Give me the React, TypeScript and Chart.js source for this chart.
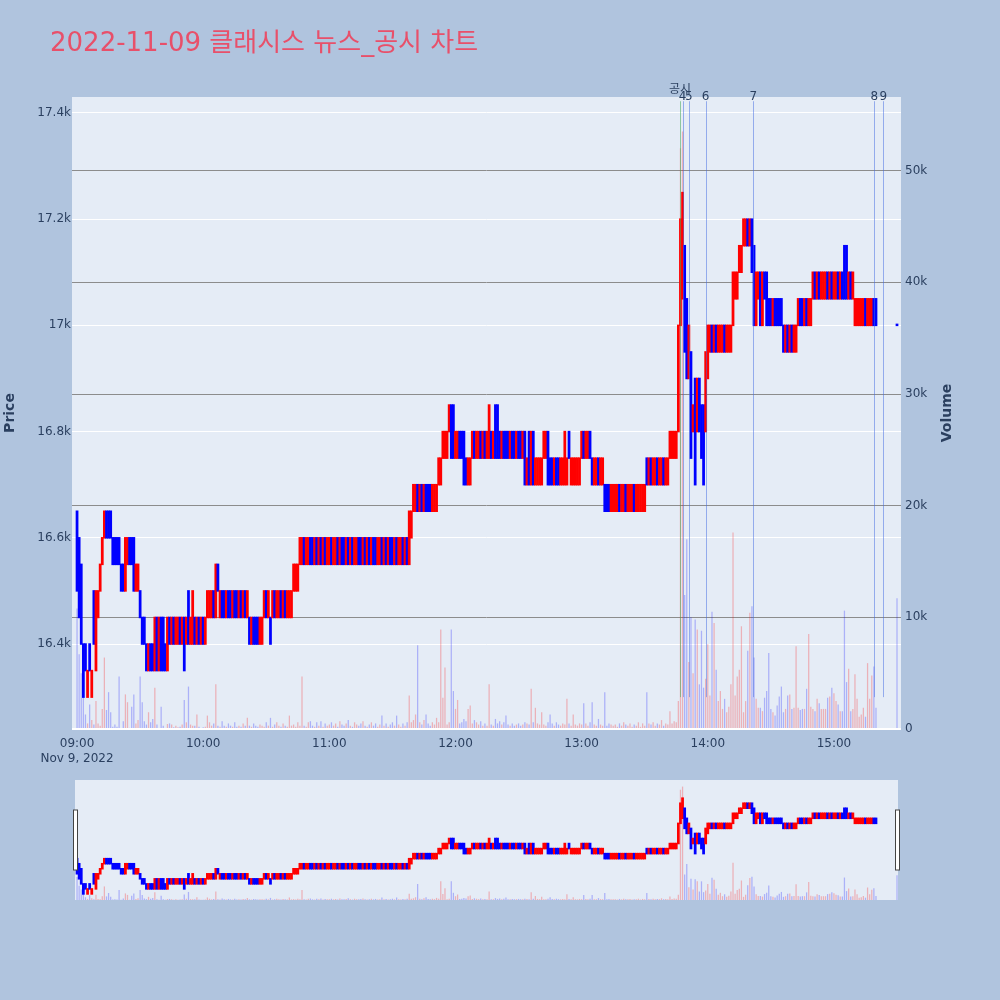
import React, { useEffect, useRef } from "react";
import { Chart, registerables } from "chart.js";

Chart.register(...registerables);

const FONT = "'DejaVu Sans', 'Noto Sans CJK KR', sans-serif";
const PAGE_BG = "#b0c4de";
const PLOT_BG = "#e5ecf6";
const TEXT = "#2a3f5f";
const TITLE_COLOR = "#e8506a";
const UP = "#ff0000";
const DOWN = "#0000ff";
const UP_VOL = "rgba(255,0,0,0.25)";
const DOWN_VOL = "rgba(0,0,255,0.25)";
const NEWS_FIRST_COLOR = "rgba(70,170,90,0.55)";
const NEWS_COLOR = "rgba(65,105,225,0.5)";

const title = "2022-11-09 클래시스 뉴스_공시 차트";
const dateLabel = "Nov 9, 2022";
const sessionStart = "09:00";
const hourTickLabels = ["09:00", "10:00", "11:00", "12:00", "13:00", "14:00", "15:00"];
const priceTicks = [16400, 16600, 16800, 17000, 17200, 17400];
const volumeTicks = [0, 10000, 20000, 30000, 40000, 50000];
const priceRange = [16240, 17430];
const volumeRange = [0, 56600];
const timeRange = ["08:57:36", "15:31:54"];

const newsTimes = ["13:46:50", "13:48:00", "13:51:00", "13:59:00", "14:21:40", "15:19:10", "15:23:30"];
const newsLabels = ["공시", "4", "5", "6", "7", "8", "9"];
const newsLineLow = 16300;
const newsLineHigh = 17422;

// one entry per minute from 09:00 (index = minutes after 09:00); null = no trade
const opens = [
  16650,16600,16550,16400,16400,16300,16400,16300,16500,16350,
  16450,16500,16550,16600,16650,16650,16650,16600,16600,16600,
  16600,16550,16550,16500,16550,16600,16600,16600,16500,16500,
  16500,16450,16450,16400,16350,16400,16400,16350,16450,16350,
  16450,16450,16400,16350,16450,16400,16450,16400,16400,16450,
  16400,16450,16400,16500,16400,16400,16450,16400,16450,16400,
  16450,16400,16450,16450,16450,16500,16450,16550,16450,16500,
  16500,16450,16500,16500,16450,16500,16500,16450,16500,16450,
  16500,16450,16450,16400,16450,16450,16450,16400,16400,16450,
  16500,16450,16450,16450,16500,16450,16450,16500,16450,16500,
  16450,16450,16450,16500,16500,16500,16550,16550,16600,16550,
  16550,16600,16600,16550,16600,16550,16600,16550,16600,16550,
  16550,16600,16550,16550,16600,16550,16600,16600,16550,16600,
  16550,16600,16550,16550,16600,16600,16550,16600,16550,16600,
  16550,16600,16600,16550,16550,16600,16550,16600,16550,16600,
  16600,16550,16600,16550,16550,16600,16550,16600,16550,16600,
  16650,16650,16700,16650,16700,16650,16700,16700,16700,16650,
  16650,16650,16700,16700,16750,16750,16750,16800,16850,16850,
  16750,16750,16800,16800,16800,16750,16700,16700,16750,16800,
  16750,16750,16800,16750,16800,16750,16750,16800,16750,16850,
  16850,16800,16750,16800,16800,16800,16750,16800,16800,16750,
  16800,16800,16750,16800,16700,16800,16700,16800,16700,16700,
  16700,16700,16750,16750,16800,16750,16750,16700,16750,16750,
  16700,16700,16700,16700,16800,16700,16700,16700,16700,16700,
  16750,16800,16750,16750,16800,16750,16700,16700,16750,16700,
  16700,16700,16700,16700,16650,16650,16650,16650,16700,16650,
  16650,16700,16650,16650,16650,16700,16650,16650,16650,16650,
  16650,16750,16700,16750,16700,16700,16750,16700,16700,16750,
  16700,16700,16750,16750,16750,16750,16800,17000,17050,17150,
  17050,16900,16950,16800,16900,16800,16900,16850,16850,16800,
  16900,16950,17000,16950,17000,16950,16950,16950,17000,16950,
  16950,16950,17000,17050,17050,17100,17100,17150,17150,17200,
  17150,17200,17150,17000,17050,17100,17000,17100,17100,17050,
  17050,17000,17050,17050,17050,17050,17000,16950,17000,16950,
  17000,16950,16950,17000,17050,17050,17000,17050,17000,17000,
  17050,17100,17050,17100,17050,17050,17050,17100,17050,17100,
  17050,17050,17100,17050,17100,17150,17150,17050,17100,17050,
  17000,17000,17000,17000,17000,17050,17000,17000,17000,17050,
  17050,null,null,null,null,null,null,null,null,null,
  17000,
];

const closes = [
  16500,16450,16400,16300,16350,16350,16350,16350,16400,16500,
  16500,16550,16600,16650,16600,16600,16600,16550,16550,16550,
  16550,16500,16500,16600,16600,16550,16550,16500,16550,16550,
  16450,16400,16400,16350,16400,16350,16350,16450,16350,16450,
  16350,16350,16350,16450,16400,16450,16400,16450,16450,16400,
  16450,16350,16450,16400,16450,16500,16400,16450,16400,16450,
  16400,16450,16500,16500,16500,16450,16550,16500,16500,16450,
  16450,16500,16450,16450,16500,16450,16450,16500,16450,16500,
  16450,16500,16400,16450,16400,16400,16400,16450,16450,16500,
  16450,16500,16400,16500,16450,16500,16500,16450,16500,16450,
  16500,16500,16500,16550,16550,16550,16600,16600,16550,16600,
  16600,16550,16550,16600,16550,16600,16550,16600,16550,16600,
  16600,16550,16600,16600,16550,16600,16550,16550,16600,16550,
  16600,16550,16600,16600,16550,16550,16600,16550,16600,16550,
  16600,16550,16550,16600,16600,16550,16600,16550,16600,16550,
  16550,16600,16550,16600,16600,16550,16600,16550,16650,16650,
  16700,16700,16650,16700,16650,16700,16650,16650,16650,16700,
  16700,16700,16750,16750,16800,16800,16800,16850,16750,16750,
  16800,16800,16750,16750,16700,16700,16750,16750,16800,16750,
  16800,16800,16750,16800,16750,16800,16850,16750,16800,16750,
  16750,16750,16800,16750,16750,16750,16800,16750,16750,16800,
  16750,16750,16800,16700,16750,16700,16800,16700,16750,16750,
  16750,16750,16800,16800,16700,16700,16700,16750,16700,16700,
  16750,16750,16800,16750,16750,16750,16750,16750,16750,16750,
  16800,16750,16800,16800,16750,16700,16750,16750,16700,16750,
  16750,16650,16650,16650,16700,16700,16700,16700,16650,16700,
  16700,16650,16700,16700,16700,16650,16700,16700,16700,16700,
  16700,16700,16750,16700,16750,16750,16700,16750,16750,16700,
  16750,16750,16800,16800,16800,16800,17000,17200,17250,16950,
  16900,17000,16750,16850,16700,16900,16800,16750,16700,16950,
  17000,17000,16950,17000,16950,17000,17000,17000,16950,17000,
  17000,17000,17100,17100,17100,17150,17150,17200,17200,17150,
  17200,17100,17000,17100,17100,17000,17100,17050,17000,17000,
  17000,17050,17000,17000,17000,17000,16950,17000,16950,17000,
  16950,17000,17000,17050,17000,17000,17050,17000,17050,17050,
  17100,17050,17100,17050,17100,17100,17100,17050,17100,17050,
  17100,17100,17050,17100,17050,17050,17050,17100,17050,17100,
  17050,17050,17050,17050,17050,17000,17050,17050,17050,17000,
  17000,null,null,null,null,null,null,null,null,null,
  17000,
];

const volumes = [
  10800,6700,5000,2800,1300,500,2200,800,400,2500,
  500,300,1800,6400,1700,3300,1500,200,400,200,
  4700,100,700,3100,2400,100,2000,3100,500,800,
  4700,2400,700,400,1500,600,900,3700,400,100,
  2000,300,100,450,500,400,150,300,150,200,
  400,2600,600,3800,400,300,300,1300,200,100,
  150,200,1200,600,300,500,4000,300,200,700,
  300,200,500,300,200,600,200,300,200,500,
  300,1000,300,200,500,300,200,400,300,200,
  600,300,1000,200,400,600,300,200,500,300,
  200,1200,300,400,200,600,300,4700,300,200,
  600,700,300,200,600,300,700,200,500,300,
  400,600,300,500,200,700,400,300,500,800,
  300,200,600,400,300,500,700,300,200,400,
  600,300,500,200,400,1200,300,500,200,400,
  600,300,1200,400,200,500,300,600,3000,600,
  800,1300,7500,600,400,800,1300,500,300,600,
  400,1000,600,8900,2800,5500,400,600,8900,3400,
  1800,2600,500,600,900,700,1800,2100,500,800,
  600,400,700,300,500,300,4000,400,300,900,
  500,700,400,600,1200,400,300,500,300,400,
  500,300,400,600,500,400,3600,600,1900,500,
  400,1500,400,300,600,1300,500,300,600,400,
  300,500,400,2700,500,300,1300,400,300,500,
  400,2300,500,300,600,2400,400,300,900,400,
  300,3300,300,500,400,300,400,200,500,300,
  600,400,300,500,200,400,300,600,200,500,
  300,3300,500,400,600,300,500,400,800,300,
  500,400,1600,500,700,600,2500,52000,53500,12000,
  17000,6000,10000,5000,9800,8900,4000,8800,3700,4500,
  7600,3000,10500,9500,5300,2500,3400,1800,2700,1500,
  2000,4000,17600,3000,4700,5300,9200,1500,2500,7000,
  10400,11000,6400,2700,1900,1900,1600,2800,3400,6800,
  1800,1500,1200,2100,2900,3800,1500,1800,3000,3100,
  1800,1900,7400,1900,1700,1800,1800,3600,8500,2000,
  1800,1600,2700,2300,1800,1800,1800,2800,2900,3700,
  3200,2500,2200,1600,1600,10600,4200,5400,1600,1800,
  4900,2700,1100,1300,1900,1100,5900,2700,4800,5600,
  1900,null,null,null,null,null,null,null,null,null,
  11700,
];

function toMin(t: string): number {
  const [h0, m0] = sessionStart.split(":").map(Number);
  const parts = t.split(":").map(Number);
  return (parts[0] - h0) * 60 + (parts[1] - m0) + (parts[2] || 0) / 60;
}

function buildPoints() {
  const pts: { x: number; o: number; c: number; v: number }[] = [];
  for (let i = 0; i < opens.length; i++) {
    const o = opens[i];
    const c = closes[i];
    if (o == null || c == null) continue;
    pts.push({ x: i, o, c, v: volumes[i] ?? 0 });
  }
  return pts;
}

function makeDatasets(pts: any[]) {
  return [
    {
      type: "bar",
      label: "price",
      data: pts.map((p) => ({ x: p.x, y: [p.o, p.c] })),
      backgroundColor: pts.map((p) => (p.c > p.o ? UP : DOWN)),
      borderWidth: 0,
      grouped: false,
      barPercentage: 0.6,
      categoryPercentage: 1,
      inflateAmount: 0.75,
      minBarLength: 1,
      xAxisID: "x",
      yAxisID: "y",
    },
    {
      type: "bar",
      label: "volume",
      data: pts.map((p) => ({ x: p.x, y: p.v })),
      backgroundColor: pts.map((p) => (p.c > p.o ? UP_VOL : DOWN_VOL)),
      borderWidth: 0,
      grouped: false,
      barPercentage: 0.6,
      categoryPercentage: 1,
      inflateAmount: 0,
      xAxisID: "x",
      yAxisID: "yv",
    },
  ];
}

const kFmt = (v: number) => (v === 0 ? "0" : `${+(v / 1000).toFixed(1)}k`);

export default function App() {
  const mainRef = useRef<HTMLCanvasElement | null>(null);
  const sliderRef = useRef<HTMLCanvasElement | null>(null);

  useEffect(() => {
    const pts = buildPoints();
    const xMin = toMin(timeRange[0]);
    const xMax = toMin(timeRange[1]);
    const hourVals = hourTickLabels.map(toMin);

    const bgPlugin = {
      id: "plotBg",
      beforeDraw(chart: any) {
        const { ctx, chartArea } = chart;
        ctx.save();
        ctx.fillStyle = PLOT_BG;
        ctx.fillRect(chartArea.left, chartArea.top, chartArea.right - chartArea.left, chartArea.bottom - chartArea.top);
        ctx.restore();
      },
    };

    const overlayPlugin = {
      id: "overlay",
      afterDraw(chart: any) {
        const { ctx } = chart;
        const xs = chart.scales.x;
        const ys = chart.scales.y;
        ctx.save();
        newsTimes.forEach((t, i) => {
          const px = Math.round(xs.getPixelForValue(toMin(t))) + 0.5;
          const y0 = ys.getPixelForValue(newsLineHigh);
          const y1 = ys.getPixelForValue(newsLineLow);
          ctx.strokeStyle = i === 0 ? NEWS_FIRST_COLOR : NEWS_COLOR;
          ctx.lineWidth = 1;
          ctx.beginPath();
          ctx.moveTo(px, y0);
          ctx.lineTo(px, y1);
          ctx.stroke();
        });
        ctx.fillStyle = TEXT;
        ctx.textAlign = "center";
        ctx.textBaseline = "middle";
        ctx.font = `12px ${FONT}`;
        newsTimes.forEach((t, i) => {
          const px = xs.getPixelForValue(toMin(t));
          ctx.fillText(newsLabels[i], px, i === 0 ? 90 : 97);
        });
        ctx.fillStyle = TITLE_COLOR;
        ctx.textAlign = "left";
        ctx.textBaseline = "alphabetic";
        ctx.font = `26px ${FONT}`;
        ctx.fillText(title, 50, 51);
        ctx.fillStyle = TEXT;
        ctx.font = `bold 14px ${FONT}`;
        ctx.textAlign = "center";
        ctx.textBaseline = "middle";
        ctx.save();
        ctx.translate(10, 413);
        ctx.rotate(-Math.PI / 2);
        ctx.fillText("Price", 0, 0);
        ctx.restore();
        ctx.save();
        ctx.translate(947, 413);
        ctx.rotate(-Math.PI / 2);
        ctx.fillText("Volume", 0, 0);
        ctx.restore();
        ctx.restore();
      },
    };

    const main = new Chart(mainRef.current as HTMLCanvasElement, {
      type: "bar",
      data: { datasets: makeDatasets(pts) as any },
      options: {
        responsive: false,
        animation: false,
        devicePixelRatio: 1,
        events: [],
        layout: { padding: { top: 97, left: 0, right: 0, bottom: 0 } },
        plugins: { legend: { display: false }, tooltip: { enabled: false }, title: { display: false } },
        scales: {
          x: {
            type: "linear",
            min: xMin,
            max: xMax,
            offset: false,
            bounds: "data",
            grid: { display: false },
            border: { display: false },
            afterFit: (s: any) => {
              s.height = 41;
            },
            afterBuildTicks: (s: any) => {
              s.ticks = hourVals.map((v) => ({ value: v }));
            },
            ticks: {
              padding: 0,
              maxRotation: 0,
              minRotation: 0,
              autoSkip: false,
              color: TEXT,
              font: { family: FONT, size: 12 },
              callback: (v: any) => {
                const idx = hourVals.indexOf(v);
                const lab = idx >= 0 ? hourTickLabels[idx] : "";
                return idx === 0 ? [lab, dateLabel] : lab;
              },
            },
          },
          y: {
            type: "linear",
            position: "left",
            min: priceRange[0],
            max: priceRange[1],
            bounds: "data",
            grid: { color: "#ffffff", lineWidth: 1, drawTicks: false },
            border: { display: false },
            afterFit: (s: any) => {
              s.width = 72;
            },
            afterBuildTicks: (s: any) => {
              s.ticks = priceTicks.map((v) => ({ value: v }));
            },
            ticks: { padding: 1, color: TEXT, font: { family: FONT, size: 12 }, callback: (v: any) => kFmt(v) },
          },
          yv: {
            type: "linear",
            position: "right",
            min: volumeRange[0],
            max: volumeRange[1],
            bounds: "data",
            grid: {
              color: (c: any) => (c.tick && c.tick.value === 0 ? "#ffffff" : "#8c8c8c"),
              lineWidth: (c: any) => (c.tick && c.tick.value === 0 ? 2 : 1),
              drawTicks: false,
            },
            border: { display: false },
            afterFit: (s: any) => {
              s.width = 99;
            },
            afterBuildTicks: (s: any) => {
              s.ticks = volumeTicks.map((v) => ({ value: v }));
            },
            ticks: { padding: 4, color: TEXT, font: { family: FONT, size: 12 }, callback: (v: any) => kFmt(v) },
          },
        },
      } as any,
      plugins: [bgPlugin, overlayPlugin],
    });

    const sliderBg = {
      id: "sliderBg",
      beforeDraw(chart: any) {
        const { ctx, chartArea } = chart;
        ctx.save();
        ctx.fillStyle = PLOT_BG;
        ctx.fillRect(chartArea.left + 3, chartArea.top, chartArea.right - chartArea.left - 6, chartArea.bottom - chartArea.top);
        ctx.restore();
      },
      afterDraw(chart: any) {
        const { ctx, chartArea } = chart;
        const mid = (chartArea.top + chartArea.bottom) / 2;
        ctx.save();
        ctx.fillStyle = "#ffffff";
        ctx.strokeStyle = "#444444";
        ctx.lineWidth = 1;
        [chartArea.left + 1.5, chartArea.right - 5.5].forEach((x) => {
          ctx.fillRect(x, mid - 30, 4, 60);
          ctx.strokeRect(x, mid - 30, 4, 60);
        });
        ctx.restore();
      },
    };

    const slider = new Chart(sliderRef.current as HTMLCanvasElement, {
      type: "bar",
      data: { datasets: makeDatasets(pts) as any },
      options: {
        responsive: false,
        animation: false,
        devicePixelRatio: 1,
        events: [],
        layout: { padding: { top: 20, bottom: 20, left: 72, right: 99 } },
        plugins: { legend: { display: false }, tooltip: { enabled: false } },
        scales: {
          x: { type: "linear", display: false, min: xMin, max: xMax, offset: false, bounds: "data" },
          y: { type: "linear", display: false, min: priceRange[0], max: priceRange[1], bounds: "data" },
          yv: { type: "linear", display: false, min: volumeRange[0], max: volumeRange[1], bounds: "data" },
        },
      } as any,
      plugins: [sliderBg],
    });

    return () => {
      main.destroy();
      slider.destroy();
    };
  }, []);

  return (
    <div style={{ position: "fixed", left: 0, top: 0, width: 1000, height: 1000, background: PAGE_BG }}>
      <canvas ref={mainRef} width={1000} height={770} style={{ position: "absolute", left: 0, top: 0 }} />
      <canvas ref={sliderRef} width={1000} height={160} style={{ position: "absolute", left: 0, top: 760 }} />
    </div>
  );
}
